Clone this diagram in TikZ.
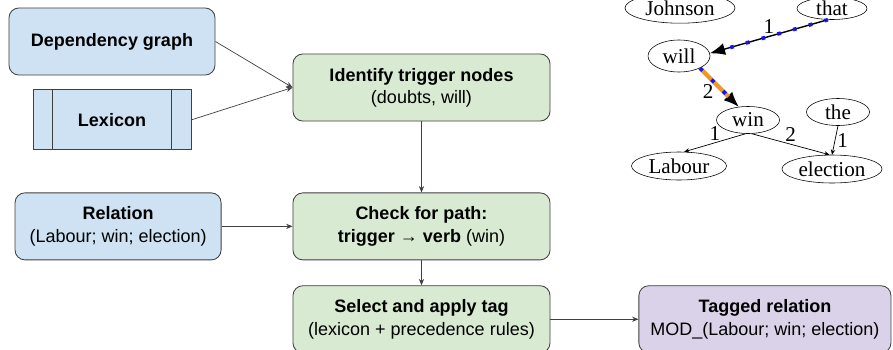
\documentclass[tikz,border=0pt]{standalone}
\usepackage{fontspec}
\setmainfont{Liberation Sans}
\newfontfamily\depfont{Liberation Serif}
\usepackage{tikz}
\usetikzlibrary{arrows.meta,positioning,calc,shapes.geometric}
\definecolor{inputBlue}{RGB}{207,226,243}
\definecolor{stepGreen}{RGB}{217,234,211}
\definecolor{outputLilac}{RGB}{217,210,233}
\definecolor{edgeGray}{RGB}{64,64,64}
\definecolor{pathOrange}{RGB}{241,150,35}
\definecolor{pathBlue}{RGB}{20,20,235}
\tikzset{
  flow node/.style={draw=edgeGray,rounded corners=7pt,align=center,font=\fontsize{12.8}{15.8}\selectfont,minimum height=1.675cm,inner sep=2pt,line width=0.6pt},
  flow node blue/.style={flow node,fill=inputBlue,minimum width=5.15cm},
  flow node green/.style={flow node,fill=stepGreen,minimum width=6.425cm},
  flow node lilac/.style={flow node,fill=outputLilac,minimum width=6.3cm},
  lexicon box/.style={draw=edgeGray,fill=inputBlue,font=\fontsize{12.8}{15.8}\selectfont\bfseries,minimum width=3.95cm,minimum height=1.5cm,line width=0.6pt},
  flow arrow/.style={-{Stealth[length=1.6mm,width=1.3mm]},draw=edgeGray,line width=0.5pt},
  word/.style={ellipse,draw,inner sep=0pt,font=\depfont\fontsize{15}{16}\selectfont},
  dep arrow/.style={-{Stealth[length=1.3mm,width=1.1mm]},line width=0.5pt},
  dep label/.style={font=\depfont\fontsize{15}{16}\selectfont,inner sep=1.5pt},
  path arrow/.style={-{Latex[length=3.8mm,width=3mm]},line width=1pt},
  path dots/.style={draw=pathBlue,line width=2.6pt,dash pattern=on 2.6pt off 9pt}
}
\begin{document}
\begin{tikzpicture}[x=0.025cm,y=-0.025cm]
    \useasboundingbox (0,0) rectangle (893,349);
    \clip (0,0) rectangle (893,349);
    \node[flow node blue,font=\fontsize{12.8}{15.8}\selectfont\bfseries] (depgraph) at (112,41.5) {Dependency graph};
    \node[lexicon box,below=0.35cm of depgraph] (lexicon) {Lexicon};
    \draw[edgeGray,line width=0.6pt] ([xshift=0.49cm]lexicon.north west) -- ([xshift=0.49cm]lexicon.south west);
    \draw[edgeGray,line width=0.6pt] ([xshift=-0.49cm]lexicon.north east) -- ([xshift=-0.49cm]lexicon.south east);
    \node[flow node green] (identify) at (421.5,87.5) {\textbf{Identify trigger nodes}\\(doubts, will)};
    \node[flow node green,below=1.775cm of identify] (checkpath) {\textbf{Check for path:}\\\textbf{trigger → verb} (win)};
    \node[flow node green,below=0.625cm of checkpath] (selecttag) {\textbf{Select and apply tag}\\(lexicon + precedence rules)};
    \node[flow node blue,left=1.775cm of checkpath] (relation) {\textbf{Relation}\\(Labour; win; election)};
    \node[flow node lilac,right=2.2cm of selecttag] (tagged) {\textbf{Tagged relation}\\MOD\_(Labour; win; election)};
    \draw[flow arrow] (depgraph.east) -- (identify.west);
    \draw[flow arrow] (lexicon.east) -- (identify.west);
    \draw[flow arrow] (identify) -- (checkpath);
    \draw[flow arrow] (relation) -- (checkpath);
    \draw[flow arrow] (checkpath) -- (selecttag);
    \draw[flow arrow] (selecttag) -- (tagged);
    \node[word,minimum width=2.75cm,minimum height=0.76cm] (johnson) at (680,8) {Johnson};
    \node[word,minimum width=1.75cm,minimum height=0.55cm] (that) at (832,8.5) {that};
    \node[word,minimum width=1.55cm,minimum height=0.8cm] (will) at (679,56) {will};
    \node[word,minimum width=1.575cm,minimum height=0.675cm] (win) at (748,120) {win};
    \node[word,minimum width=1.575cm,minimum height=0.675cm] (the) at (838,112) {the};
    \node[word,minimum width=2.375cm,minimum height=0.7cm] (labour) at (679,166) {Labour};
    \node[word,minimum width=2.5cm,minimum height=0.7cm] (election) at (832,169) {election};
    \draw[path arrow] (that.250) -- node[dep label,above] {1} (will.5);
    \draw[path dots,shorten >=4mm] (that.250) -- (will.5);
    \draw[path arrow] (will.330) -- node[dep label,left=5pt,pos=0.6] {2} (win.125);
    \draw[pathOrange,line width=3pt,shorten >=3.6mm] (will.330) -- (win.125);
    \draw[path dots,shorten >=3.6mm] (will.330) -- (win.125);
    \draw[dep arrow] (win.260) -- node[dep label,above] {1} (labour.70);
    \draw[dep arrow] (win.285) -- node[dep label,above] {2} (election.100);
    \draw[dep arrow] (the.south) -- node[dep label,right] {1} (election.north);
\end{tikzpicture}
\end{document}
